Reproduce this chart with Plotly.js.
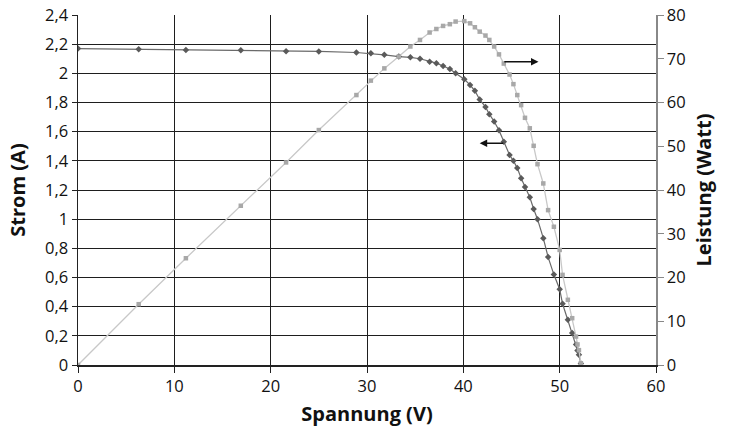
<!DOCTYPE html>
<html>
<head>
<meta charset="utf-8">
<script src="https://cdn.plot.ly/plotly-3.0.1.min.js"></script>
<style>html,body{margin:0;padding:0;background:#fff;}#chart{width:732px;height:437px;}</style>
</head>
<body>
<div id="chart"></div>
<script>
// Spannung (V)
const voltage = [0, 6.3, 11.2, 16.9, 21.6, 25.0, 28.9, 30.4, 31.8, 33.3, 34.5, 35.5, 36.5, 37.2, 37.9, 38.6, 39.2, 40.1, 40.7, 41.2, 41.7, 42.3, 42.7, 43.2, 43.7, 44.2, 44.8, 45.2, 45.6, 46.0, 46.4, 46.9, 47.3, 47.7, 48.3, 48.8, 49.4, 50.0, 50.3, 50.85, 51.3, 51.7, 51.85, 52.0, 52.2];
// Strom (A)
const current = [2.17, 2.165, 2.16, 2.158, 2.152, 2.15, 2.143, 2.137, 2.127, 2.115, 2.11, 2.10, 2.08, 2.07, 2.05, 2.03, 2.00, 1.96, 1.92, 1.88, 1.82, 1.77, 1.72, 1.67, 1.61, 1.53, 1.44, 1.40, 1.35, 1.28, 1.22, 1.15, 1.07, 1.00, 0.87, 0.74, 0.62, 0.52, 0.42, 0.31, 0.22, 0.14, 0.10, 0.07, 0.01];
// Leistung (Watt)
const power = [0, 13.9, 24.4, 36.4, 46.3, 53.7, 61.7, 65.0, 67.8, 70.5, 72.8, 74.3, 76.0, 76.8, 77.5, 77.9, 78.5, 78.6, 78.1, 77.2, 76.2, 75.3, 74.3, 72.8, 71.0, 68.9, 66.4, 64.2, 61.7, 59.4, 56.5, 54.1, 50.1, 45.9, 41.5, 35.4, 31.6, 26.3, 20.6, 14.9, 10.7, 6.5, 4.7, 3.4, 0.4];

const xTitle = 'Spannung (V)';
const yTitle = 'Strom (A)';
const y2Title = 'Leistung (Watt)';

const font = 'Open Sans, Noto Sans, sans-serif';
const tickFont = {family: font, size: 16.5, color: '#111'};
const titleFont = {family: font, size: 20, color: '#111', weight: 'bold'};

const traces = [
  {
    x: voltage, y: power, yaxis: 'y2', type: 'scatter', mode: 'lines+markers',
    line: {color: '#c8c8c8', width: 1.3},
    marker: {symbol: 'square', size: 4.5, color: '#a8a8a8'},
    hoverinfo: 'skip'
  },
  {
    x: voltage, y: current, yaxis: 'y', type: 'scatter', mode: 'lines+markers',
    line: {color: '#6a6a6a', width: 1.2},
    marker: {symbol: 'diamond', size: 5, color: '#5a5a5a'},
    hoverinfo: 'skip'
  }
];

const layout = {
  width: 732, height: 437,
  margin: {l: 78, r: 76, t: 15, b: 72},
  paper_bgcolor: '#ffffff', plot_bgcolor: '#ffffff',
  separators: ', ',
  showlegend: false,
  font: {family: font, size: 16, color: '#111'},
  xaxis: {
    range: [0, 60], dtick: 10, tick0: 0,
    showgrid: true, gridcolor: '#1e1e1e', gridwidth: 1,
    zeroline: false,
    showline: true, linecolor: '#222', linewidth: 1.5,
    ticks: 'outside', ticklen: 6, tickcolor: '#222',
    tickfont: tickFont,
    title: {text: xTitle, font: titleFont, standoff: 10}
  },
  yaxis: {
    range: [0, 2.4], dtick: 0.2, tick0: 0,
    showgrid: true, gridcolor: '#1e1e1e', gridwidth: 1,
    zeroline: false,
    showline: true, linecolor: '#222', linewidth: 1.5,
    ticks: 'outside', ticklen: 5, tickcolor: '#222',
    tickfont: tickFont,
    title: {text: yTitle, font: titleFont, standoff: 14}
  },
  yaxis2: {
    range: [0, 80], dtick: 10, tick0: 0,
    overlaying: 'y', side: 'right',
    showgrid: false, zeroline: false,
    showline: true, linecolor: '#888', linewidth: 1.5,
    ticks: 'outside', ticklen: 6, tickcolor: '#888',
    tickfont: tickFont,
    title: {text: y2Title, font: titleFont, standoff: 12}
  },
  annotations: [
    {x: 47.8, y: 69.3, ax: 44.1, ay: 69.3, xref: 'x', yref: 'y2', axref: 'x', ayref: 'y2',
     text: '', showarrow: true, arrowhead: 2, arrowsize: 1, arrowwidth: 1.5, arrowcolor: '#111'},
    {x: 41.7, y: 1.52, ax: 44.3, ay: 1.52, xref: 'x', yref: 'y', axref: 'x', ayref: 'y',
     text: '', showarrow: true, arrowhead: 2, arrowsize: 1, arrowwidth: 1.5, arrowcolor: '#111'}
  ]
};

Plotly.newPlot('chart', traces, layout, {displayModeBar: false, staticPlot: true});
</script>
</body>
</html>
